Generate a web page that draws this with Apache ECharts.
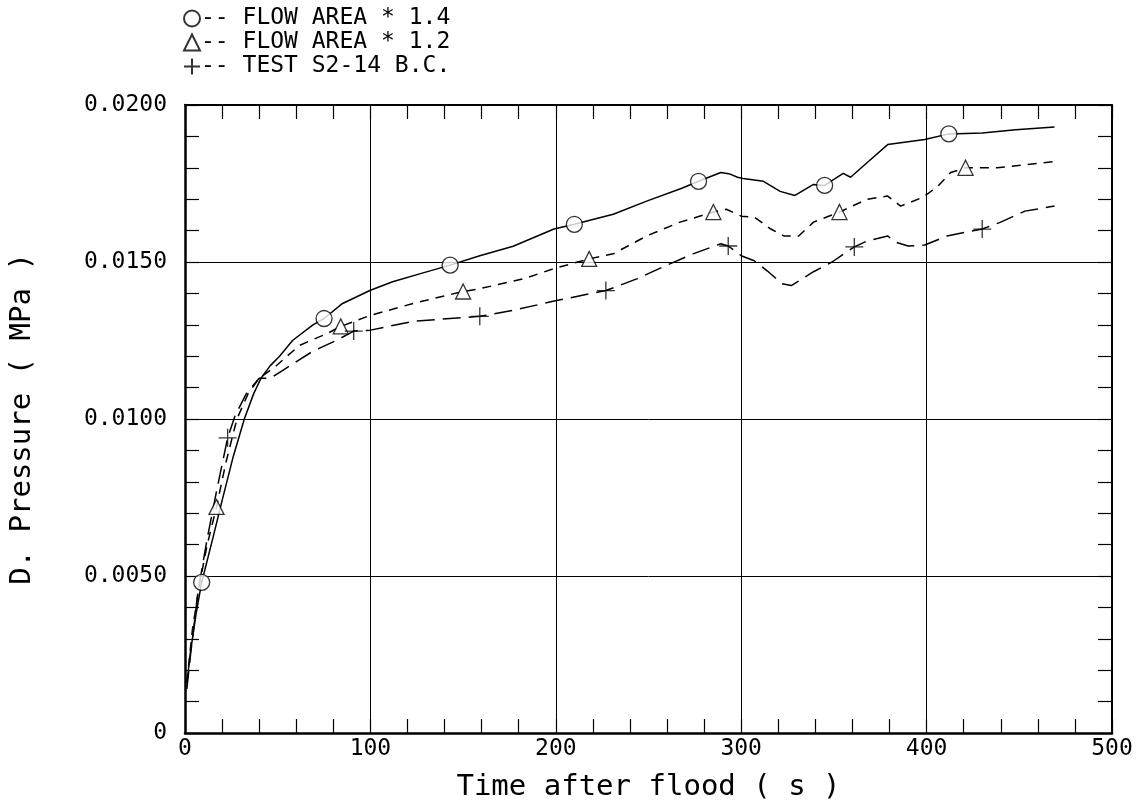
<!DOCTYPE html>
<html>
<head>
<meta charset="utf-8">
<script src="https://cdn.jsdelivr.net/npm/echarts@6/dist/echarts.min.js"></script>
<style>
  html, body { margin: 0; padding: 0; background: #fff; }
  #chart { width: 1139px; height: 807px; }
</style>
</head>
<body>
<div id="chart"></div>
<script>
// curves: [time (s), pressure (MPa)]
var area14 = [
  [1, 0.0016], [3, 0.0026], [6, 0.0038], [9, 0.0048], [15, 0.0062], [20, 0.0074],
  [26, 0.0088], [32, 0.0100], [37, 0.0108], [41, 0.0113], [46, 0.0117], [51, 0.0120],
  [58, 0.0125], [69, 0.0130], [75, 0.0132], [85, 0.01368], [100, 0.0141], [112, 0.01437],
  [127, 0.01463], [143, 0.0149], [159, 0.0152], [177, 0.0155], [199, 0.01605], [210, 0.0162],
  [231, 0.01652], [249, 0.01694], [268, 0.01735], [277, 0.01757], [289, 0.01785], [294, 0.0178],
  [298, 0.0177], [301, 0.01766], [312, 0.01757], [321, 0.01725], [329, 0.01712], [339, 0.01747],
  [345, 0.01744], [355, 0.01782], [359, 0.0177], [368, 0.01817], [379, 0.01874], [399, 0.0189],
  [412, 0.01908], [430, 0.01911], [448, 0.01921], [469, 0.0193]
];
var area12 = [
  [1, 0.0016], [4, 0.0033], [8, 0.0048], [12, 0.0060], [17, 0.0072], [22, 0.0086],
  [28, 0.0100], [34, 0.0108], [40, 0.0113], [48, 0.01163], [55, 0.0120], [62, 0.01235],
  [77, 0.01273], [84, 0.01295], [100, 0.0133], [123, 0.01368], [150, 0.01406], [159, 0.01415],
  [183, 0.01447], [199, 0.01479], [218, 0.0151], [231, 0.01526], [249, 0.01583], [267, 0.01627],
  [285, 0.01659], [292, 0.01668], [300, 0.01646], [307, 0.01643], [316, 0.01605], [323, 0.01583],
  [331, 0.01583], [339, 0.01627], [353, 0.01659], [368, 0.017], [379, 0.0171], [386, 0.01678],
  [398, 0.01706], [406, 0.01741], [413, 0.01785], [421, 0.018], [438, 0.018], [469, 0.0182]
];
var testBC = [
  [1, 0.0014], [3, 0.0025], [7, 0.0045], [12, 0.0062], [17, 0.0077], [23, 0.0094],
  [27, 0.0101], [33, 0.0108], [40, 0.0113], [46, 0.0113], [53, 0.01156], [69, 0.01216],
  [82, 0.01251], [91, 0.0128], [100, 0.01283], [123, 0.01311], [159, 0.01327], [177, 0.01346],
  [201, 0.01378], [227, 0.01409], [244, 0.01447], [258, 0.01485], [274, 0.01526], [289, 0.01558],
  [293, 0.01551], [300, 0.0152], [307, 0.01504], [314, 0.01472], [322, 0.01431], [327, 0.01425],
  [339, 0.01469], [349, 0.015], [361, 0.01548], [368, 0.01567], [379, 0.01583], [383, 0.01564],
  [390, 0.01551], [399, 0.01554], [411, 0.01583], [430, 0.01605], [440, 0.01627], [453, 0.01662],
  [469, 0.01678]
];

// marker positions along each curve
var area14Marks = [[9, 0.0048], [75, 0.0132], [143, 0.0149], [210, 0.0162], [277, 0.01757], [345, 0.01744], [412, 0.01908]];
var area12Marks = [[17, 0.0072], [84, 0.01295], [150, 0.01406], [218, 0.0151], [285, 0.01659], [353, 0.01659], [421, 0.018]];
var testMarks = [[23, 0.0094], [91, 0.0128], [159, 0.01327], [227, 0.01409], [293, 0.01551], [361, 0.01548], [430, 0.01605]];

var names = ["FLOW AREA * 1.4", "FLOW AREA * 1.2", "TEST S2-14 B.C."];

var font = "DejaVu Sans Mono";
var plusPath = "path://M5,0L5,10M0,5L10,5";

var chart = echarts.init(document.getElementById("chart"));

// plain axis used for the top / right frame, ticks only
function frameAxis(pos, isX) {
  return {
    type: "value",
    position: pos,
    min: 0,
    max: isX ? 500 : 0.02,
    interval: isX ? 100 : 0.005,
    axisLine: { show: true, onZero: false, lineStyle: { color: "#000", width: 2 } },
    axisTick: { show: true, inside: true, length: 14, lineStyle: { color: "#000", width: 1.2 } },
    minorTick: { show: true, splitNumber: 5, length: 14, lineStyle: { color: "#000", width: 1.2 } },
    axisLabel: { show: false },
    splitLine: { show: false }
  };
}

chart.setOption({
  backgroundColor: "#fff",
  animation: false,
  grid: { left: 185, right: 27, top: 105, bottom: 69 },
  legend: {
    data: names,
    orient: "vertical",
    left: 178,
    top: 2,
    itemGap: 1,
    itemWidth: 16,
    itemHeight: 16,
    formatter: function (n) { return "-- " + n; },
    textStyle: { fontFamily: font, fontSize: 23, color: "#000", padding: [0, 0, 0, -4] }
  },
  xAxis: [
    {
      type: "value",
      position: "bottom",
      min: 0,
      max: 500,
      interval: 100,
      axisLine: { show: true, onZero: false, lineStyle: { color: "#000", width: 2.5 } },
      axisTick: { show: true, inside: true, length: 14, lineStyle: { color: "#000", width: 1.2 } },
      minorTick: { show: true, splitNumber: 5, length: 14, lineStyle: { color: "#000", width: 1.2 } },
      splitLine: { show: true, lineStyle: { color: "#000", width: 1 } },
      axisLabel: { fontFamily: font, fontSize: 23, color: "#000", margin: 5 },
      name: "Time after flood ( s )",
      nameLocation: "middle",
      nameGap: 40,
      nameTextStyle: { fontFamily: font, fontSize: 29, color: "#000" }
    },
    frameAxis("top", true)
  ],
  yAxis: [
    {
      type: "value",
      position: "left",
      min: 0,
      max: 0.02,
      interval: 0.005,
      axisLine: { show: true, onZero: false, lineStyle: { color: "#000", width: 2.5 } },
      axisTick: { show: true, inside: true, length: 14, lineStyle: { color: "#000", width: 1.2 } },
      minorTick: { show: true, splitNumber: 5, length: 14, lineStyle: { color: "#000", width: 1.2 } },
      splitLine: { show: true, lineStyle: { color: "#000", width: 1 } },
      axisLabel: {
        fontFamily: font, fontSize: 23, color: "#000", margin: 18,
        formatter: function (v) { return v === 0 ? "0" : v.toFixed(4); }
      },
      name: "D. Pressure ( MPa )",
      nameLocation: "middle",
      nameGap: 148,
      nameRotate: 90,
      nameTextStyle: { fontFamily: font, fontSize: 29, color: "#000" }
    },
    frameAxis("right", false)
  ],
  series: [
    {
      name: "line14", type: "line", data: area14, showSymbol: false,
      lineStyle: { color: "#000", width: 1.5, type: "solid" }, z: 3
    },
    {
      name: "line12", type: "line", data: area12, showSymbol: false,
      lineStyle: { color: "#000", width: 1.5, type: [9, 7] }, z: 3
    },
    {
      name: "lineBC", type: "line", data: testBC, showSymbol: false,
      lineStyle: { color: "#000", width: 1.5, type: [18, 8] }, z: 3
    },
    {
      name: names[0], type: "scatter", data: area14Marks, symbol: "circle", symbolSize: 16,
      itemStyle: { color: "#fff", borderColor: "#000", borderWidth: 1.3 }, z: 4
    },
    {
      name: names[1], type: "scatter", data: area12Marks, symbol: "triangle", symbolSize: 15,
      itemStyle: { color: "#fff", borderColor: "#000", borderWidth: 1.3 }, z: 4
    },
    {
      name: names[2], type: "scatter", data: testMarks, symbol: plusPath, symbolSize: 18,
      itemStyle: { color: "#000", borderColor: "#000", borderWidth: 1.3 }, z: 4
    }
  ]
});
</script>
</body>
</html>
